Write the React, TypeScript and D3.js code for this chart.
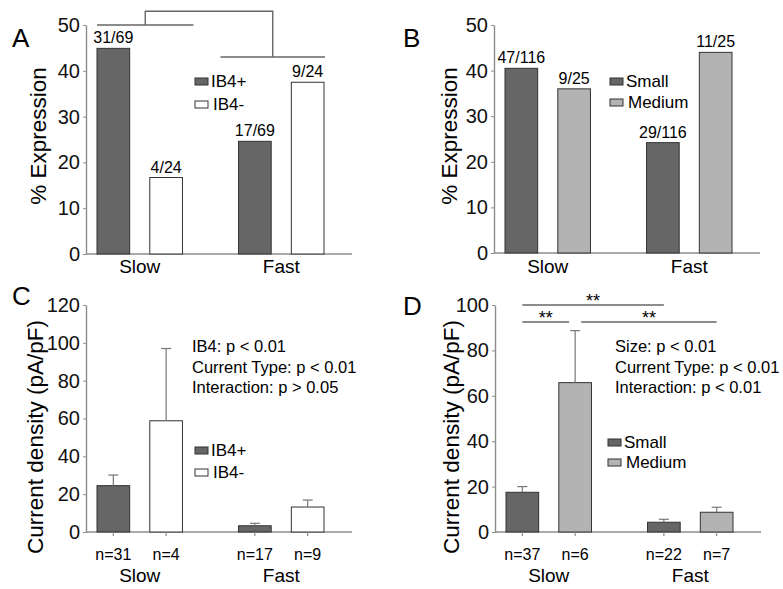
import React, { useEffect, useRef } from 'react'
import * as d3 from 'd3'

const groups = ['Slow', 'Fast']
const ib4Series = ['IB4+', 'IB4-']
const sizeSeries = ['Small', 'Medium']

// % expression, [group][series]
const pctIB4 = [[44.9, 16.7], [24.6, 37.5]]
const pctIB4Labels = [['31/69', '4/24'], ['17/69', '9/24']]
const pctSize = [[40.5, 36.0], [24.2, 44.0]]
const pctSizeLabels = [['47/116', '9/25'], ['29/116', '11/25']]

// current density (pA/pF), mean and SEM
const densIB4 = [[24.5, 58.8], [3.3, 13.2]]
const densIB4Err = [[5.6, 38.2], [1.3, 3.7]]
const densIB4N = [[31, 4], [17, 9]]
const densSize = [[17.5, 65.8], [4.3, 8.7]]
const densSizeErr = [[2.5, 22.9], [1.3, 2.2]]
const densSizeN = [[37, 6], [22, 7]]

const statsIB4 = ['IB4: p < 0.01', 'Current Type: p < 0.01', 'Interaction: p > 0.05']
const statsSize = ['Size: p < 0.01', 'Current Type: p < 0.01', 'Interaction: p < 0.01']

const ticksPct = [0, 10, 20, 30, 40, 50]
const ticksDensC = [0, 20, 40, 60, 80, 100, 120]
const ticksDensD = [0, 20, 40, 60, 80, 100]

const sizeComparisons = [
  { a: ['Slow', 'Small'], b: ['Fast', 'Small'], level: 100, label: '**' },
  { a: ['Slow', 'Small'], b: ['Slow', 'Medium'], level: 92.5, label: '**' },
  { a: ['Slow', 'Medium'], b: ['Fast', 'Medium'], level: 92.5, label: '**' }
]

const colours = { 'IB4+': '#666666', 'IB4-': '#ffffff', Small: '#666666', Medium: '#b3b3b3' }
const font = '"Liberation Sans", Arial, sans-serif'
const axisColour = '#8c8c8c'
const plotWidth = 266

function drawPanel(svg, p) {
  const g = svg.append('g').attr('transform', `translate(${p.left}, ${p.top})`)
  const y = d3.scaleLinear().domain([0, p.yMax]).range([p.height, 0])
  const x0 = d3.scaleBand().domain(groups).range([11, 238]).paddingInner(0.396)
  const x1 = d3.scaleBand().domain(p.series).range([0, x0.bandwidth()]).paddingInner(0.381)
  const cx = (grp, s) => x0(grp) + x1(s) + x1.bandwidth() / 2

  // y axis
  g.append('g')
    .call(d3.axisLeft(y).tickValues(p.ticks).tickSize(3).tickSizeOuter(0).tickPadding(3))
    .call((a) => {
      a.select('.domain').attr('stroke', axisColour).attr('stroke-width', 1.4)
      a.selectAll('.tick line').attr('stroke', axisColour)
      a.selectAll('.tick text').attr('font-size', 20).attr('font-family', font).attr('fill', '#111')
    })

  // x axis
  g.append('line')
    .attr('x1', 0).attr('x2', plotWidth)
    .attr('y1', p.height).attr('y2', p.height)
    .attr('stroke', axisColour).attr('stroke-width', 1.4)

  groups.forEach((grp, gi) => {
    p.series.forEach((s, si) => {
      const v = p.values[gi][si]
      g.append('rect')
        .attr('x', x0(grp) + x1(s))
        .attr('y', y(v))
        .attr('width', x1.bandwidth())
        .attr('height', p.height - y(v))
        .attr('fill', colours[s])
        .attr('stroke', '#333')
        .attr('stroke-width', 1)
      if (p.labels) {
        g.append('text')
          .attr('x', cx(grp, s)).attr('y', y(v) - 5)
          .attr('text-anchor', 'middle')
          .attr('font-size', 16).attr('font-family', font)
          .text(p.labels[gi][si])
      }
      if (p.errors) {
        const top = y(v + p.errors[gi][si])
        g.append('line').attr('x1', cx(grp, s)).attr('x2', cx(grp, s))
          .attr('y1', y(v)).attr('y2', top).attr('stroke', '#777').attr('stroke-width', 1.2)
        g.append('line').attr('x1', cx(grp, s) - 5).attr('x2', cx(grp, s) + 5)
          .attr('y1', top).attr('y2', top).attr('stroke', '#777').attr('stroke-width', 1.2)
        g.append('line').attr('x1', cx(grp, s)).attr('x2', cx(grp, s))
          .attr('y1', p.height).attr('y2', p.height + 4).attr('stroke', axisColour).attr('stroke-width', 1.2)
      }
      if (p.counts) {
        g.append('text')
          .attr('x', cx(grp, s)).attr('y', p.height + 28)
          .attr('text-anchor', 'middle')
          .attr('font-size', 16).attr('font-family', font)
          .text(`n=${p.counts[gi][si]}`)
      }
    })
    g.append('text')
      .attr('x', x0(grp) + x0.bandwidth() / 2).attr('y', p.height + p.groupLabelGap)
      .attr('text-anchor', 'middle')
      .attr('font-size', 19).attr('font-family', font)
      .text(grp)
  })

  // y label
  svg.append('text')
    .attr('transform', `translate(${p.yLabel[0]}, ${p.yLabel[1]}) rotate(-90)`)
    .attr('text-anchor', 'middle').attr('dy', '0.35em')
    .attr('font-size', 22.5).attr('font-family', font)
    .text(p.yTitle)

  // panel letter
  svg.append('text')
    .attr('x', p.letterPos[0]).attr('y', p.letterPos[1])
    .attr('font-size', 26).attr('font-family', font)
    .text(p.letter)

  // legend
  p.series.forEach((s, i) => {
    const b = p.legend[1] + i * p.legend[2]
    svg.append('rect')
      .attr('x', p.legend[0]).attr('y', b - 9)
      .attr('width', 13).attr('height', 7)
      .attr('fill', colours[s]).attr('stroke', '#333')
    svg.append('text')
      .attr('x', p.legend[0] + 16 + (i ? 2 : 0)).attr('y', b)
      .attr('font-size', 17).attr('font-family', font)
      .text(s)
  })

  if (p.stats) {
    p.stats.forEach((t, i) => {
      svg.append('text')
        .attr('x', p.statsPos[0]).attr('y', p.statsPos[1] + i * 20.5)
        .attr('font-size', 16.5).attr('font-family', font)
        .text(t)
    })
  }

  return { g, y, x0, x1, cx }
}

export default function App() {
  const ref = useRef(null)

  useEffect(() => {
    const svg = d3.select(ref.current)
    svg.selectAll('*').remove()

    const a = drawPanel(svg, {
      left: 86, top: 25, height: 229, yMax: 50, ticks: ticksPct,
      series: ib4Series, values: pctIB4, labels: pctIB4Labels,
      groupLabelGap: 19, yTitle: '% Expression', yLabel: [38, 136],
      letter: 'A', letterPos: [12, 47], legend: [195, 87, 23]
    })
    // significance brackets, panel A
    const bracket = a.g.append('g').attr('stroke', '#666').attr('stroke-width', 1.4).attr('fill', 'none')
    const bw = a.x0.bandwidth()
    const slow = [a.x0('Slow'), a.x0('Slow') + bw + 11]
    const fast = [a.x0('Fast') - 18, a.x0('Fast') + bw + 1]
    const slowMid = (slow[0] + slow[1]) / 2
    const fastMid = (fast[0] + fast[1]) / 2
    bracket.append('path').attr('d', `M${slow[0]},${a.y(50)}H${slow[1]}`)
    bracket.append('path').attr('d', `M${fast[0]},${a.y(43)}H${fast[1]}`)
    bracket.append('path').attr('d', `M${slowMid},${a.y(50)}V${a.y(53)}H${fastMid}V${a.y(43)}`)

    drawPanel(svg, {
      left: 494, top: 25, height: 228, yMax: 50, ticks: ticksPct,
      series: sizeSeries, values: pctSize, labels: pctSizeLabels,
      groupLabelGap: 20, yTitle: '% Expression', yLabel: [449, 136],
      letter: 'B', letterPos: [403, 47], legend: [610, 87, 21]
    })

    drawPanel(svg, {
      left: 86, top: 305, height: 227, yMax: 120, ticks: ticksDensC,
      series: ib4Series, values: densIB4, errors: densIB4Err, counts: densIB4N,
      groupLabelGap: 50, yTitle: 'Current density (pA/pF)', yLabel: [35, 437],
      letter: 'C', letterPos: [12, 305], legend: [195, 456, 22],
      stats: statsIB4, statsPos: [192, 352]
    })

    const d = drawPanel(svg, {
      left: 495, top: 305, height: 227, yMax: 100, ticks: ticksDensD,
      series: sizeSeries, values: densSize, errors: densSizeErr, counts: densSizeN,
      groupLabelGap: 50, yTitle: 'Current density (pA/pF)', yLabel: [451, 437],
      letter: 'D', letterPos: [403, 315], legend: [608, 448, 20],
      stats: statsSize, statsPos: [615, 352]
    })
    // pairwise comparison lines, panel D
    const key = (k) => k.join('|')
    sizeComparisons.forEach((c) => {
      const shared = (k) => sizeComparisons.some((o) => o !== c && o.level === c.level &&
        (key(o.a) === key(k) || key(o.b) === key(k)))
      const xa = d.cx(c.a[0], c.a[1]) + (shared(c.a) ? 6 : 0)
      const xb = d.cx(c.b[0], c.b[1]) - (shared(c.b) ? 6 : 0)
      const ly = d.y(c.level)
      d.g.append('line').attr('x1', xa).attr('x2', xb).attr('y1', ly).attr('y2', ly)
        .attr('stroke', '#666').attr('stroke-width', 1.4)
      d.g.append('text')
        .attr('x', (xa + xb) / 2).attr('y', ly + 2)
        .attr('text-anchor', 'middle')
        .attr('font-size', 18).attr('font-family', font)
        .text(c.label)
    })
  }, [])

  return (
    <div style={{ position: 'absolute', left: 0, top: 0 }}>
      <svg ref={ref} width={783} height={589} style={{ display: 'block', background: '#fff' }} />
    </div>
  )
}
